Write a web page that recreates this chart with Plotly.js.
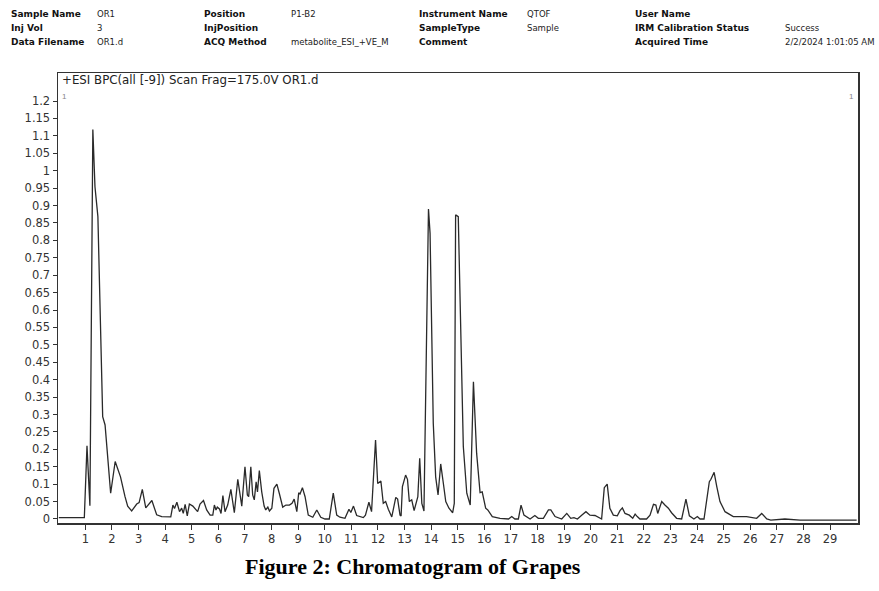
<!DOCTYPE html>
<html>
<head>
<meta charset="utf-8">
<script src="https://cdn.plot.ly/plotly-3.0.1.min.js"></script>
<style>
html,body{margin:0;padding:0;background:#fff;}
#chart{width:879px;height:591px;}
</style>
</head>
<body>
<div id="chart"></div>
<script>
// Retention time (min)
const retentionTime = [
0.0,0.96,1.06,1.17,1.28,1.36,1.47,1.65,1.74,1.95,2.12,2.22,2.32,2.49,2.59,2.74,2.93,3.02,3.14,3.27,3.50,3.68,3.87,
4.21,4.29,4.35,4.44,4.54,4.62,4.68,4.75,4.83,4.91,5.04,5.12,5.22,5.31,5.44,5.56,5.69,5.79,5.85,5.91,5.96,6.04,6.10,
6.17,6.25,6.35,6.47,6.60,6.73,6.88,7.00,7.09,7.14,7.22,7.29,7.35,7.42,7.47,7.54,7.63,7.72,7.78,7.86,7.92,8.01,8.09,
8.20,8.29,8.42,8.54,8.67,8.77,8.85,8.95,9.02,9.07,9.16,9.26,9.38,9.55,9.70,9.85,10.01,10.17,10.32,10.45,10.57,10.76,
10.91,10.98,11.08,11.20,11.45,11.53,11.66,11.76,11.91,11.99,12.11,12.20,12.29,12.39,12.52,12.67,12.74,12.83,12.87,
12.92,13.04,13.11,13.18,13.27,13.36,13.50,13.57,13.65,13.73,13.90,13.96,14.08,14.17,14.26,14.36,14.46,14.55,14.67,
14.81,14.87,14.92,15.02,15.12,15.21,15.34,15.47,15.59,15.71,15.84,15.92,16.05,16.13,16.30,16.59,16.91,17.03,17.15,
17.28,17.38,17.49,17.72,17.90,18.03,18.22,18.41,18.50,18.66,18.91,19.10,19.25,19.37,19.50,19.66,19.82,19.97,20.16,
20.41,20.51,20.62,20.72,20.85,21.00,21.10,21.19,21.29,21.45,21.58,21.67,21.75,21.85,22.10,22.23,22.36,22.45,22.52,
22.67,22.79,22.92,23.04,23.23,23.42,23.58,23.71,23.88,24.01,24.11,24.26,24.46,24.52,24.64,24.74,24.86,25.05,25.36,
25.86,26.24,26.43,26.62,26.77,27.30,27.87,30.0
];
// Intensity (x10^n counts)
const intensity = [
0.004,0.004,0.21,0.038,1.118,0.954,0.868,0.294,0.27,0.074,0.165,0.143,0.121,0.064,0.037,0.023,0.043,0.047,0.085,0.032,0.053,0.012,0.007,
0.006,0.04,0.03,0.048,0.021,0.031,0.016,0.042,0.009,0.043,0.037,0.031,0.021,0.043,0.053,0.026,0.011,0.011,0.04,0.026,0.034,0.029,0.016,
0.067,0.021,0.04,0.085,0.018,0.114,0.037,0.15,0.069,0.064,0.15,0.069,0.055,0.107,0.078,0.139,0.078,0.037,0.026,0.034,0.023,0.031,0.088,
0.10,0.074,0.034,0.04,0.04,0.045,0.057,0.021,0.075,0.072,0.09,0.064,0.011,0.005,0.026,0.005,0.0,0.0,0.074,0.011,0.005,0.002,
0.028,0.019,0.037,0.01,0.004,0.011,0.048,0.021,0.227,0.102,0.109,0.045,0.05,0.028,0.006,0.062,0.057,0.011,0.009,
0.093,0.126,0.114,0.05,0.055,0.024,0.064,0.174,0.045,0.023,0.89,0.82,0.275,0.121,0.069,0.158,0.102,0.05,0.031,
0.018,0.045,0.873,0.868,0.466,0.208,0.074,0.04,0.394,0.189,0.076,0.078,0.031,0.026,0.007,0.002,0.0,0.007,0.0,
0.0,0.04,0.011,0.0,0.01,0.002,0.002,0.026,0.026,0.007,0.0,0.016,0.002,0.004,0.0,0.011,0.021,0.011,0.01,
0.0,0.09,0.10,0.031,0.011,0.009,0.024,0.032,0.016,0.011,0.002,0.014,0.007,0.0,0.0,0.011,0.042,0.04,0.016,
0.05,0.04,0.031,0.018,0.002,0.0,0.057,0.009,0.0,0.007,0.0,0.0,0.107,0.114,0.134,0.093,0.05,0.021,0.007,
0.007,0.002,0.016,0.0,-0.003,0.0,-0.003,-0.003
];
const xTickVals = [1,2,3,4,5,6,7,8,9,10,11,12,13,14,15,16,17,18,19,20,21,22,23,24,25,26,27,28,29];
const yTickVals = [0,0.05,0.1,0.15,0.2,0.25,0.3,0.35,0.4,0.45,0.5,0.55,0.6,0.65,0.7,0.75,0.8,0.85,0.9,0.95,1,1.05,1.1,1.15,1.2];
const yTickText = ["0","0.05","0.1","0.15","0.2","0.25","0.3","0.35","0.4","0.45","0.5","0.55","0.6","0.65","0.7","0.75","0.8","0.85","0.9","0.95","1","1.05","1.1","1.15","1.2"];
const traceTitle = "+ESI BPC(all [-9]) Scan Frag=175.0V OR1.d";
const figureCaption = "Figure 2: Chromatogram of Grapes";
const headerLabels = [
  ["Sample Name","Position","Instrument Name","User Name"],
  ["Inj Vol","InjPosition","SampleType","IRM Calibration Status"],
  ["Data Filename","ACQ Method","Comment","Acquired Time"]
];
const headerValues = [
  ["OR1","P1-B2","QTOF",""],
  ["3","","Sample","Success"],
  ["OR1.d","metabolite_ESI_+VE_M","","2/2/2024 1:01:05 AM"]
];

// layout geometry (pixels)
const W = 879, H = 591, L = 58, R = 858, T = 73, B = 523;
const px = p => (p - L) / (R - L);
const py = p => (B - p) / (B - T);

const labelX = [9, 202, 417, 633];
const valueX = [95, 289, 525, 783];
const rowY = [14, 28, 42];

const annotations = [];
headerLabels.forEach((row, r) => row.forEach((txt, c) => {
  annotations.push({text: "<b>" + txt + "</b>", xref: "paper", yref: "paper", x: px(labelX[c]), y: py(rowY[r]),
    xanchor: "left", yanchor: "middle", showarrow: false,
    font: {family: "DejaVu Sans", size: 9, color: "#111"}});
}));
headerValues.forEach((row, r) => row.forEach((txt, c) => {
  if (!txt) return;
  annotations.push({text: txt, xref: "paper", yref: "paper", x: px(valueX[c]), y: py(rowY[r]),
    xanchor: "left", yanchor: "middle", showarrow: false,
    font: {family: "DejaVu Sans", size: 8.5, color: "#222"}});
}));
annotations.push({text: traceTitle, xref: "paper", yref: "paper", x: px(60), y: py(80),
  xanchor: "left", yanchor: "middle", showarrow: false,
  font: {family: "DejaVu Sans", size: 11.8, color: "#222"}});
annotations.push({text: "1", xref: "paper", yref: "paper", x: px(64), y: py(96),
  xanchor: "center", yanchor: "middle", showarrow: false,
  font: {family: "Liberation Sans, Arial", size: 8, color: "#888"}});
annotations.push({text: "1", xref: "paper", yref: "paper", x: px(851), y: py(96),
  xanchor: "center", yanchor: "middle", showarrow: false,
  font: {family: "Liberation Sans, Arial", size: 8, color: "#888"}});
annotations.push({text: "<b>" + figureCaption + "</b>", xref: "paper", yref: "paper", x: px(413), y: py(566),
  xanchor: "center", yanchor: "middle", showarrow: false,
  font: {family: "Liberation Serif, Times New Roman", size: 22, color: "#000"}});

const trace = {
  x: retentionTime, y: intensity, type: "scatter", mode: "lines",
  line: {color: "#2a2a2a", width: 1.3}, hoverinfo: "skip"
};

const layout = {
  width: W, height: H,
  margin: {l: L, r: W - R, t: T, b: H - B, pad: 0},
  paper_bgcolor: "#fff", plot_bgcolor: "#fff",
  showlegend: false,
  xaxis: {range: [-0.03, 30.05], tickvals: xTickVals, ticks: "outside", ticklen: 5, tickwidth: 1,
    tickcolor: "#333", showgrid: false, zeroline: false, showline: true, linecolor: "#333", linewidth: 1.5,
    mirror: true, tickfont: {family: "DejaVu Sans", size: 11.5, color: "#333"}, fixedrange: true},
  yaxis: {range: [-0.0115, 1.2804], tickvals: yTickVals, ticktext: yTickText, ticks: "outside", ticklen: 4,
    tickwidth: 1, tickcolor: "#333", showgrid: false, zeroline: false, showline: true, linecolor: "#333",
    linewidth: 1.5, mirror: true, tickfont: {family: "DejaVu Sans", size: 11.5, color: "#333"}, fixedrange: true},
  annotations: annotations,
  font: {family: "DejaVu Sans"}
};

Plotly.newPlot("chart", [trace], layout, {displayModeBar: false, staticPlot: true});
</script>
</body>
</html>
